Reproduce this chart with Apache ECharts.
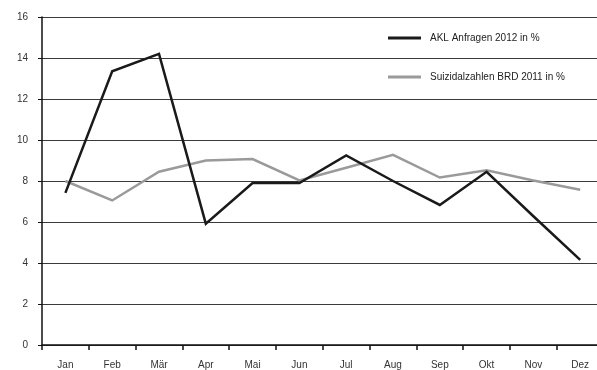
<!DOCTYPE html>
<html>
<head>
<meta charset="utf-8">
<script src="https://cdn.jsdelivr.net/npm/echarts@6/dist/echarts.min.js"></script>
<style>
  html, body { margin: 0; padding: 0; background: #fff; }
  #chart { width: 597px; height: 370px; }
</style>
</head>
<body>
<div id="chart"></div>
<script>
// Monatsverlauf: AKL-Anfragen 2012 vs. Suizidzahlen BRD 2011 (Anteile in %)
const months = ['Jan', 'Feb', 'Mär', 'Apr', 'Mai', 'Jun', 'Jul', 'Aug', 'Sep', 'Okt', 'Nov', 'Dez'];
const aklAnfragen2012 = [7.42, 13.35, 14.2, 5.92, 7.9, 7.9, 9.25, 8.0, 6.83, 8.45, 6.28, 4.15];
const suizidBrd2011 = [8.0, 7.05, 8.45, 9.0, 9.07, 8.03, 8.65, 9.28, 8.17, 8.52, 8.02, 7.57];
const yTicks = { min: 0, max: 16, step: 2 };

const seriesNames = ['AKL Anfragen 2012 in %', 'Suizidalzahlen BRD 2011 in %'];
const FONT = '"Liberation Sans Narrow", "Liberation Sans", Arial, sans-serif';

const chart = echarts.init(document.getElementById('chart'), null, { renderer: 'canvas' });

chart.setOption({
  animation: false,
  backgroundColor: '#ffffff',
  grid: {
    left: 42, top: 17, width: 561.6, bottom: 25,
    containLabel: false,
    outerBoundsMode: 'none'
  },
  legend: {
    orient: 'vertical',
    left: 383,
    top: 28,
    itemGap: 29,
    itemWidth: 33,
    itemHeight: 3,
    icon: 'rect',
    textStyle: { fontFamily: FONT, fontSize: 10, color: '#222', padding: [0, 0, 0, 4] },
    data: seriesNames
  },
  xAxis: {
    type: 'category',
    data: months,
    boundaryGap: true,
    axisLine: { lineStyle: { color: '#111', width: 1.5 } },
    axisTick: { show: true, length: 5, lineStyle: { color: '#111', width: 1.5 } },
    axisLabel: { fontFamily: FONT, fontSize: 10, color: '#333', margin: 15 },
    splitLine: { show: false }
  },
  yAxis: {
    type: 'value',
    min: yTicks.min,
    max: yTicks.max,
    interval: yTicks.step,
    axisLine: { show: true, lineStyle: { color: '#111', width: 1.5 } },
    axisTick: { show: true, length: 4, lineStyle: { color: '#111', width: 1 } },
    axisLabel: { fontFamily: FONT, fontSize: 10, color: '#333', margin: 14 },
    splitLine: { show: true, lineStyle: { color: '#3a3a3a', width: 1 } }
  },
  series: [
    {
      name: seriesNames[0],
      type: 'line',
      data: aklAnfragen2012,
      symbol: 'none',
      z: 3,
      itemStyle: { color: '#1a1a1a' },
      lineStyle: { color: '#1a1a1a', width: 2.5, join: 'miter' }
    },
    {
      name: seriesNames[1],
      type: 'line',
      data: suizidBrd2011,
      symbol: 'none',
      z: 2,
      itemStyle: { color: '#9a9a9a' },
      lineStyle: { color: '#9a9a9a', width: 2.5, join: 'miter' }
    }
  ]
});
</script>
</body>
</html>
